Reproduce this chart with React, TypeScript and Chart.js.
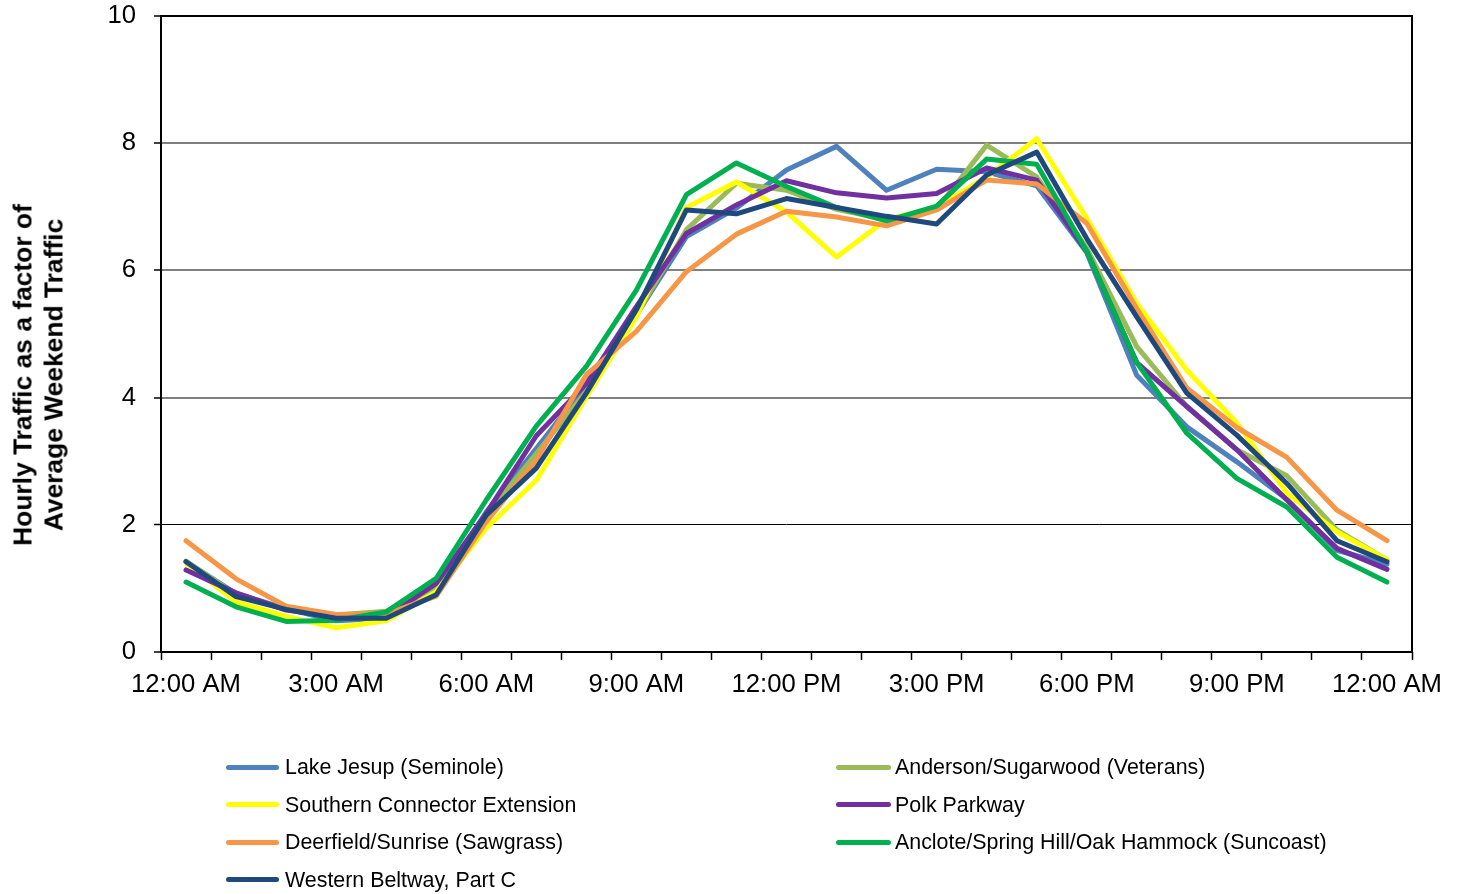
import React, { useEffect, useRef } from "react";
import { Chart, registerables } from "chart.js";

Chart.register(...registerables);

const hourLabels = [
  "12:00 AM", "1:00 AM", "2:00 AM", "3:00 AM", "4:00 AM", "5:00 AM",
  "6:00 AM", "7:00 AM", "8:00 AM", "9:00 AM", "10:00 AM", "11:00 AM",
  "12:00 PM", "1:00 PM", "2:00 PM", "3:00 PM", "4:00 PM", "5:00 PM",
  "6:00 PM", "7:00 PM", "8:00 PM", "9:00 PM", "10:00 PM", "11:00 PM",
  "12:00 AM",
];

const seriesNames = [
  "Lake Jesup (Seminole)",
  "Anderson/Sugarwood (Veterans)",
  "Southern Connector Extension",
  "Polk Parkway",
  "Deerfield/Sunrise (Sawgrass)",
  "Anclote/Spring Hill/Oak Hammock (Suncoast)",
  "Western Beltway, Part C",
];

const seriesColors = ["#4F81BD", "#9BBB59", "#FFFF00", "#7030A0", "#F79646", "#00B050", "#1F497D"];

const lakeJesup = [1.42, 0.92, 0.68, 0.49, 0.53, 1.0, 2.2, 3.2, 4.2, 5.3, 6.53, 6.98, 7.58, 7.95, 7.26, 7.59, 7.55, 7.33, 6.28, 4.35, 3.54, 2.99, 2.4, 1.6, 1.38];
const andersonSugarwood = [1.43, 0.9, 0.67, 0.58, 0.64, 1.0, 2.15, 3.12, 4.1, 5.3, 6.64, 7.37, 7.26, 6.96, 6.8, 6.96, 7.97, 7.47, 6.35, 4.8, 3.86, 3.18, 2.77, 1.92, 1.45];
const southernConnector = [1.4, 0.79, 0.56, 0.38, 0.49, 0.95, 1.95, 2.7, 4.01, 5.27, 6.99, 7.39, 6.92, 6.21, 6.8, 6.99, 7.47, 8.07, 6.82, 5.48, 4.43, 3.6, 2.5, 1.89, 1.45];
const polkParkway = [1.29, 0.93, 0.66, 0.55, 0.55, 1.08, 2.18, 3.4, 4.22, 5.43, 6.58, 7.03, 7.41, 7.22, 7.14, 7.21, 7.61, 7.42, 6.3, 4.55, 3.86, 3.18, 2.39, 1.63, 1.3];
const deerfieldSunrise = [1.75, 1.15, 0.72, 0.59, 0.6, 0.88, 2.05, 3.02, 4.36, 5.04, 5.98, 6.57, 6.93, 6.84, 6.7, 6.95, 7.42, 7.36, 6.74, 5.4, 4.15, 3.53, 3.06, 2.23, 1.75];
const ancloteSpringHill = [1.1, 0.71, 0.48, 0.5, 0.63, 1.16, 2.39, 3.55, 4.49, 5.69, 7.19, 7.69, 7.32, 6.99, 6.78, 7.01, 7.75, 7.67, 6.3, 4.55, 3.44, 2.73, 2.28, 1.49, 1.1];
const westernBeltway = [1.42, 0.87, 0.67, 0.53, 0.53, 0.9, 2.15, 2.89, 4.07, 5.38, 6.95, 6.89, 7.13, 6.99, 6.85, 6.73, 7.5, 7.86, 6.5, 5.27, 4.07, 3.41, 2.65, 1.75, 1.42];

const seriesValues = [
  lakeJesup, andersonSugarwood, southernConnector, polkParkway,
  deerfieldSunrise, ancloteSpringHill, westernBeltway,
];

const yTitleLines = ["Hourly Traffic as a factor of", "Average Weekend Traffic"];

const FONT = '"Liberation Sans", Arial, Helvetica, sans-serif';

const frameBorder = {
  id: "frameBorder",
  afterDatasetsDraw(chart: any) {
    const { ctx, chartArea } = chart;
    ctx.save();
    ctx.strokeStyle = "#000";
    ctx.lineWidth = 2;
    ctx.strokeRect(
      Math.round(chartArea.left),
      Math.round(chartArea.top),
      Math.round(chartArea.right - chartArea.left),
      Math.round(chartArea.bottom - chartArea.top)
    );
    ctx.restore();
  },
};

export default function App() {
  const canvasRef = useRef<HTMLCanvasElement | null>(null);

  useEffect(() => {
    if (!canvasRef.current) return;
    // Chart.js paints dataset 0 last, so reverse to keep the last series on top
    const datasets = seriesNames
      .map((name, i) => ({
        label: name,
        data: seriesValues[i],
        borderColor: seriesColors[i],
        backgroundColor: seriesColors[i],
        borderWidth: 5,
        pointRadius: 0,
        pointHoverRadius: 0,
        tension: 0,
        fill: false,
        borderCapStyle: "round" as const,
        borderJoinStyle: "round" as const,
      }))
      .reverse();

    const chart = new Chart(canvasRef.current, {
      type: "line",
      data: { labels: hourLabels, datasets },
      plugins: [frameBorder],
      options: {
        animation: false,
        responsive: false,
        maintainAspectRatio: false,
        layout: { padding: { top: 16, right: 51, left: 0, bottom: 0 } },
        plugins: {
          legend: { display: false },
          tooltip: { enabled: false },
          title: { display: false },
        },
        scales: {
          x: {
            type: "category",
            offset: true,
            border: { display: false },
            grid: {
              offset: true,
              drawOnChartArea: false,
              drawTicks: true,
              tickLength: 8,
              tickColor: "#000",
              tickWidth: 1.5,
              color: "#000",
            },
            ticks: {
              autoSkip: false,
              maxRotation: 0,
              minRotation: 0,
              padding: 9,
              color: "#000",
              font: { family: FONT, size: 25.7 },
              callback: (_v: any, index: number) => (index % 3 === 0 ? hourLabels[index] : ""),
            },
            afterFit: (scale: any) => {
              scale.height = 242;
              scale.paddingLeft = 0;
              scale.paddingRight = 0;
            },
          },
          y: {
            min: 0,
            max: 10,
            border: { display: false },
            grid: {
              drawTicks: true,
              tickLength: 7,
              tickColor: "#000",
              tickWidth: 1.5,
              color: (ctx: any) => (ctx.tick && ctx.tick.value === 2 ? "#000" : "#808080"),
              lineWidth: (ctx: any) => (ctx.tick && ctx.tick.value === 2 ? 1 : 2),
            },
            ticks: {
              stepSize: 2,
              padding: 18,
              color: "#000",
              font: { family: FONT, size: 25.7 },
            },
            afterFit: (scale: any) => {
              scale.width = 161;
              scale.paddingTop = 0;
              scale.paddingBottom = 0;
            },
          },
        },
      },
    });
    return () => chart.destroy();
  }, []);

  const rowsY = [767, 804.5, 842, 879.5];
  const legendItems = seriesNames.map((name, i) => {
    const col = i % 2;
    const row = Math.floor(i / 2);
    const lineLeft = col === 0 ? 226 : 836;
    const lineW = col === 0 ? 53 : 55;
    const textLeft = col === 0 ? 285 : 895;
    const cy = rowsY[row];
    return (
      <React.Fragment key={name}>
        <div
          style={{
            position: "absolute",
            left: lineLeft,
            top: cy - 2.5,
            width: lineW,
            height: 5,
            borderRadius: 2.5,
            background: seriesColors[i],
          }}
        />
        <div
          style={{
            position: "absolute",
            left: textLeft,
            top: cy - 12,
            height: 24,
            lineHeight: "24px",
            fontFamily: FONT,
            fontSize: 21.4,
            color: "#000",
            whiteSpace: "nowrap",
          }}
        >
          {name}
        </div>
      </React.Fragment>
    );
  });

  return (
    <div
      style={{
        position: "fixed",
        left: 0,
        top: 0,
        width: 1463,
        height: 894,
        background: "#fff",
        overflow: "hidden",
      }}
    >
      <canvas
        ref={canvasRef}
        width={1463}
        height={894}
        style={{ position: "absolute", left: 0, top: 0, width: 1463, height: 894 }}
      />
      <div
        style={{
          position: "absolute",
          left: 37.5,
          top: 375,
          transform: "translate(-50%, -50%) rotate(-90deg)",
          whiteSpace: "nowrap",
          textAlign: "center",
          fontFamily: FONT,
          fontWeight: "bold",
          fontSize: 26.4,
          lineHeight: "30.5px",
          color: "#000",
        }}
      >
        {yTitleLines.map((t) => (
          <div key={t}>{t}</div>
        ))}
      </div>
      {legendItems}
    </div>
  );
}
